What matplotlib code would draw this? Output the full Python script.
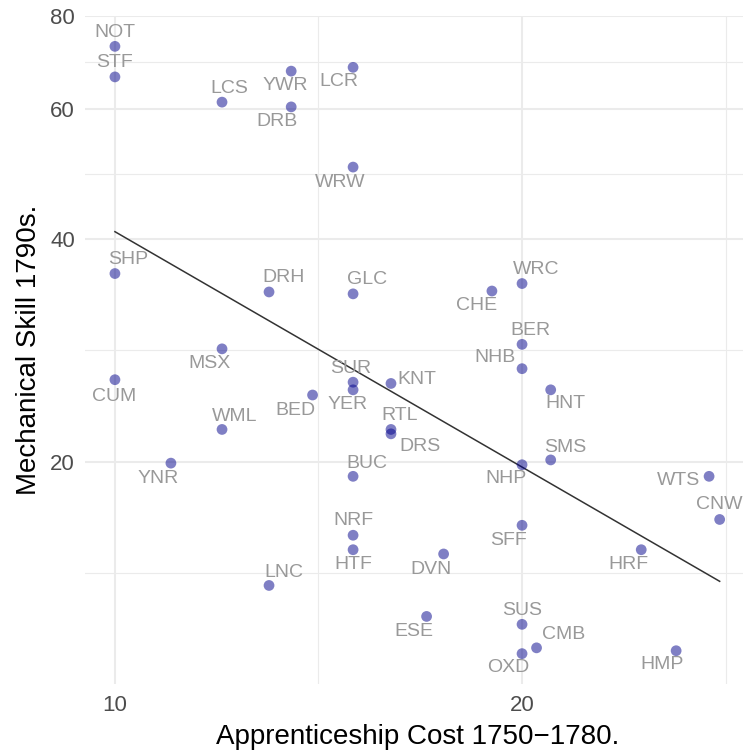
import numpy as np
import matplotlib
matplotlib.use("Agg")
import matplotlib.pyplot as plt
from matplotlib.ticker import FixedLocator, FixedFormatter, NullFormatter

plt.rcParams['font.family'] = ['Liberation Sans', 'DejaVu Sans']

# county codes, apprenticeship cost (x) and mechanical skill (y)
codes = ["NOT", "STF", "LCS", "YWR", "LCR", "DRB", "WRW", "SHP", "DRH", "GLC",
         "WRC", "CHE", "BER", "NHB", "HNT", "MSX", "CUM", "SUR", "YER", "KNT",
         "BED", "WML", "RTL", "DRS", "YNR", "NHP", "SMS", "WTS", "BUC", "CNW",
         "SFF", "NRF", "HTF", "DVN", "HRF", "LNC", "ESE", "SUS", "CMB", "OXD", "HMP"]
cost = [10, 10, 12, 13.5, 15, 13.5, 15, 10, 13, 15,
        20, 19, 20, 20, 21, 12, 10, 15, 15, 16,
        14, 12, 16, 16, 11, 20, 21, 27.5, 15, 28,
        20, 15, 15, 17.5, 24.5, 13, 17, 20, 20.5, 20, 26]
skill = [72.8, 66.2, 61.2, 67.4, 68.2, 60.3, 50.0, 35.9, 33.9, 33.7,
         34.8, 34.0, 28.8, 26.7, 25.0, 28.4, 25.8, 25.6, 25.0, 25.5,
         24.6, 22.1, 22.1, 21.8, 19.9, 19.8, 20.1, 19.1, 19.1, 16.7,
         16.4, 15.9, 15.2, 15.0, 15.2, 13.6, 12.35, 12.05, 11.2, 11.0, 11.1]

x_breaks = [10, 20, 40]
y_breaks = [10, 20, 40, 60, 80]

# label nudges in pixels (dx, dy)
nudge = [(0, 14), (0, 14), (7, 14), (-6, -14), (-14, -14), (-14, -15), (-13, -15), (13, 14), (15, 14), (14, 14),
         (14, 14), (-15, -14), (8, 14), (-27, 11), (15, -14), (-13, -15), (-1, -17), (-2, 14), (-5, -15), (26, 4),
         (-17, -15), (13, 13), (9, 14), (29, -13), (-13, -15), (-16, -14), (15, 12), (-31, -4), (14, 13), (0, 15),
         (-14, -15), (0, 15), (0, -15), (-13, -16), (-13, -15), (15, 13), (-13, -15), (0, 14), (27, 13), (-14, -14), (-14, -14)]

x = np.array(cost)
y = np.array(skill)
lx = np.log10(x)
ly = np.log10(y)

fig = plt.figure(figsize=(7.43, 7.54), dpi=100)
ax = fig.add_axes([84.7 / 743, 70 / 754, 665.2 / 743, 668 / 754])

ax.set_xscale('log')
ax.set_yscale('log')
xr = lx.max() - lx.min()
yr = ly.max() - ly.min()
ax.set_xlim(10 ** (lx.min() - 0.05 * xr), 10 ** (lx.max() + 0.05 * xr))
ax.set_ylim(10 ** (ly.min() - 0.05 * yr), 10 ** (ly.max() + 0.05 * yr))

# grid
ax.xaxis.set_major_locator(FixedLocator(x_breaks))
ax.xaxis.set_major_formatter(FixedFormatter([str(v) for v in x_breaks]))
ax.yaxis.set_major_locator(FixedLocator(y_breaks))
ax.yaxis.set_major_formatter(FixedFormatter([str(v) for v in y_breaks]))
xm = [np.sqrt(a * b) for a, b in zip(x_breaks[:-1], x_breaks[1:])]
ym = [np.sqrt(a * b) for a, b in zip(y_breaks[:-1], y_breaks[1:])]
ax.xaxis.set_minor_locator(FixedLocator(xm))
ax.yaxis.set_minor_locator(FixedLocator(ym))
ax.xaxis.set_minor_formatter(NullFormatter())
ax.yaxis.set_minor_formatter(NullFormatter())
ax.grid(True, which='major', color='#EBEBEB', linewidth=1.5)
ax.grid(True, which='minor', color='#EBEBEB', linewidth=0.8)
ax.set_axisbelow(True)
for s in ax.spines.values():
    s.set_visible(False)
ax.tick_params(which='both', length=0)
ax.tick_params(axis='both', labelsize=16, labelcolor='#4D4D4D')
ax.tick_params(axis='x', pad=8)
ax.tick_params(axis='y', pad=7)

# fitted line (log-log)
b, a = np.polyfit(lx, ly, 1)
xs = np.array([x.min(), x.max()])
ax.plot(xs, 10 ** (a + b * np.log10(xs)), color='#333333', linewidth=1.1, zorder=2)

ax.scatter(x, y, s=60, color='darkblue', alpha=0.5, edgecolors='none', zorder=3)

for c, xi, yi, (dx, dy) in zip(codes, x, y, nudge):
    ax.annotate(c, (xi, yi), xytext=(dx, dy), textcoords='offset pixels',
                ha='center', va='center', fontsize=14, color='#999999', zorder=4)

ax.set_xlabel('Apprenticeship Cost 1750\u22121780.', fontsize=20, labelpad=6)
ax.set_ylabel('Mechanical Skill 1790s.', fontsize=20, labelpad=6)

fig.savefig('out.png', dpi=100)
